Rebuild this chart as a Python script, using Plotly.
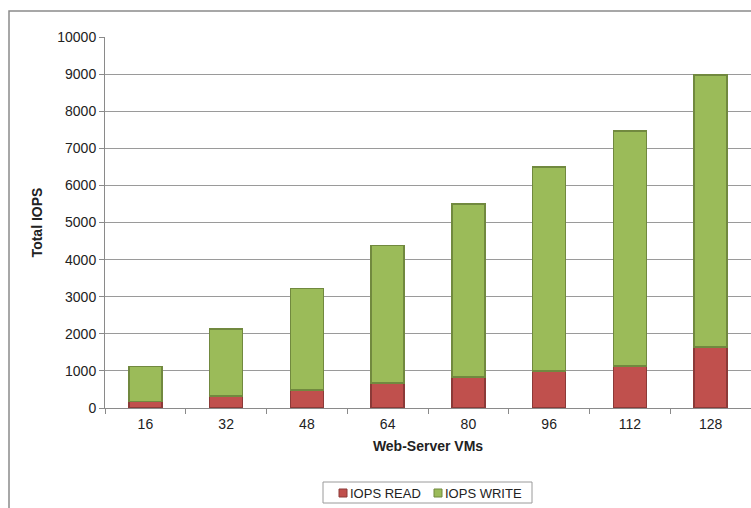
import plotly.graph_objects as go

categories = ["16", "32", "48", "64", "80", "96", "112", "128"]
iops_read = [180, 330, 490, 670, 840, 1000, 1130, 1650]
iops_write = [940, 1800, 2730, 3710, 4660, 5500, 6340, 7330]
y_ticks = [0, 1000, 2000, 3000, 4000, 5000, 6000, 7000, 8000, 9000, 10000]
series_names = ["IOPS READ", "IOPS WRITE"]
fill_colors = ["#C0504D", "#9BBB59"]
edge_colors = ["#8C3A38", "#71893F"]

W, H = 751, 508
L, R, T, B = 105, 0, 37, 100
pw, ph = W - L - R, H - T - B

def px_x(x):
    return (x - L) / pw

def px_y(y):
    return (H - B - y) / ph

fig = go.Figure()
for name, vals, fc, ec in zip(series_names, [iops_read, iops_write], fill_colors, edge_colors):
    fig.add_trace(go.Bar(
        x=categories, y=vals, name=name,
        marker=dict(color=fc, line=dict(color=ec, width=1.5)),
    ))

font = "Liberation Sans, Arial, sans-serif"
fig.update_layout(
    barmode="stack",
    bargap=0.59,
    width=W, height=H,
    margin=dict(l=L, r=R, t=T, b=B),
    paper_bgcolor="white", plot_bgcolor="white",
    font=dict(family=font, size=14, color="#222"),
    showlegend=False,
    xaxis=dict(
        type="category", showline=True, linecolor="#8a8a8a", linewidth=1,
        ticks="outside", tickson="boundaries", ticklen=5, tickcolor="#8a8a8a",
        ticklabelstandoff=3,
        showgrid=False, tickfont=dict(size=14),
        title=dict(text="<b>Web-Server VMs</b>", font=dict(size=14, color="#222"), standoff=10),
    ),
    yaxis=dict(
        range=[0, 10000], tickvals=y_ticks, ticktext=[str(v) for v in y_ticks],
        showline=True, linecolor="#8a8a8a", linewidth=1,
        ticks="outside", ticklen=5, tickcolor="#8a8a8a", tickfont=dict(size=14),
        showgrid=True, gridcolor="#9a9a9a", gridwidth=1, zeroline=False,
        title=dict(text="<b>Total IOPS</b>", font=dict(size=14, color="#222"), standoff=11),
    ),
)

# chart frame
fig.add_shape(type="rect", xref="paper", yref="paper",
              x0=px_x(9), x1=px_x(800), y0=px_y(11), y1=px_y(560),
              line=dict(color="#8a8a8a", width=1.5), layer="below")

# legend box
fig.add_shape(type="rect", xref="paper", yref="paper",
              x0=px_x(323), x1=px_x(532), y0=px_y(482), y1=px_y(503),
              line=dict(color="#9a9a9a", width=1), fillcolor="white")
legend_x = [339, 434]
for lx, name, fc, ec in zip(legend_x, series_names, fill_colors, edge_colors):
    fig.add_shape(type="rect", xref="paper", yref="paper",
                  x0=px_x(lx), x1=px_x(lx + 8), y0=px_y(489), y1=px_y(497),
                  line=dict(color=ec, width=1), fillcolor=fc)
    fig.add_annotation(xref="paper", yref="paper", x=px_x(lx + 9), y=px_y(493),
                       xanchor="left", yanchor="middle", text=name, showarrow=False,
                       font=dict(size=13, color="#222"))

fig.write_html("out.html")
